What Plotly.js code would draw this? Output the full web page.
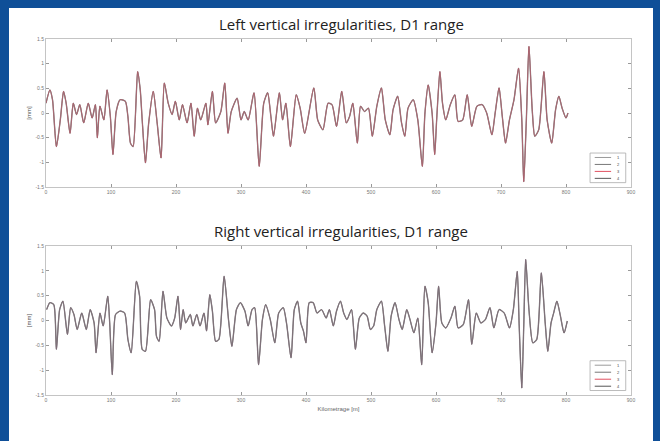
<!DOCTYPE html>
<html><head><meta charset="utf-8">
<script src="https://cdn.plot.ly/plotly-3.0.1.min.js"></script>
<style>
html,body{margin:0;padding:0;background:#0f4f98;width:660px;height:441px;overflow:hidden;}
#chart{position:absolute;left:9px;top:8px;width:644px;height:433px;background:#fff;}
</style></head><body><div id="chart"></div>
<script>
// ---- data ----
const leftDist = [0,6,10,16,22,27,31,37,42,47,52,58,65,71,76,79,83,89,94,99,103,108,114,122,126,130,134,141,145,148,153,158,165,171,177,182,188,194,199,205,210,217,223,228,233,238,246,249,256,261,269,275,280,285,294,300,305,311,320,328,335,341,346,350,359,364,369,376,385,391,398,412,418,426,434,440,447,455,462,467,472,479,484,490,496,502,509,516,522,529,534,541,547,552,557,565,572,579,583,588,594,598,601,606,610,615,622,629,634,641,648,655,663,671,678,686,691,697,702,707,713,720,727,732,735,739,743,748,752,758,766,771,778,784,789,794,800,803];
const leftVals = [0.2,0.47,0.27,-0.68,-0.14,0.44,0.2,-0.41,0.2,-0.03,0.17,-0.2,0.2,-0.1,0.17,-0.5,0.14,-0.14,0.47,-0.07,-0.84,0.03,0.27,0.24,-0.07,-0.61,-0.68,0.84,0.47,-0.14,-1.01,-0.2,0.44,-0.2,-0.91,0.61,0.2,-0.03,0.24,-0.14,0.17,-0.2,0.2,-0.47,0.1,-0.14,0.2,-0.24,0.44,-0.2,0.03,0.61,-0.41,0.03,0.3,-0.14,0.03,-0.14,0.41,-1.08,0.2,0.41,-0.07,-0.47,0.41,-0.14,0.2,-0.68,0.37,0.1,-0.41,0.51,-0.14,-0.34,0.2,0.17,-0.27,0.44,-0.2,-0.07,0.2,-0.61,0.14,0.03,0.1,-0.47,0.14,0.51,-0.14,-0.44,0.07,0.34,-0.2,-0.47,0.1,0.27,-0.14,-1.08,0,0.57,0,-0.84,-0.14,0.84,0.2,-0.14,0.17,0.37,-0.17,-0.14,0.37,-0.27,0.14,0.17,0,-0.44,0,0.51,-0.07,-0.61,-0.14,0.27,0.91,-0.14,-1.39,-0.14,1.35,0.07,-0.47,-0.34,0.84,-0.14,-0.61,0.07,0.34,0.1,-0.1,0];
const rightDist = [1,6,12,16,21,26,33,38,43,48,55,62,68,74,77,83,88,95,98,102,107,114,121,126,131,139,144,148,153,161,167,170,174,180,186,193,198,203,207,211,215,222,226,232,237,243,247,252,256,261,266,274,281,286,293,299,306,311,317,321,327,333,338,345,352,358,365,370,377,382,387,392,396,400,405,411,417,424,431,436,442,447,453,458,463,470,476,482,488,494,499,504,509,516,521,526,531,537,543,548,555,560,566,572,578,583,588,594,600,604,609,615,623,629,634,642,650,655,662,669,676,683,689,697,705,713,719,725,728,732,735,738,743,749,755,762,768,772,777,781,786,791,797,802];
const rightVals = [0.22,0.36,0.32,-0.58,0.22,0.39,-0.28,0.26,0.12,-0.18,0.15,-0.18,0.22,-0.05,-0.65,0.15,-0.11,0.49,-0.05,-1.09,0.12,0.19,0.15,-0.38,-0.65,0.79,0.49,-0.58,-0.62,0.42,0.22,-0.32,-0.42,0.59,0.05,-0.11,0.05,0.49,-0.18,0.22,-0.05,0.12,-0.11,0.12,-0.11,0.15,-0.21,0.52,0.19,-0.42,-0.38,0.89,-0.01,-0.52,0.22,0.36,0.19,-0.11,0.22,0.26,-0.89,0.02,0.32,0.02,-0.45,0.15,0.26,-0.05,-0.75,0.22,0.39,-0.05,-0.21,-0.45,0.36,0.36,0.15,0.22,0.05,0.22,-0.11,0.19,0.39,0.15,0.02,0.22,-0.58,0.05,0.15,0.09,-0.18,-0.11,0.22,0.39,-0.11,-0.62,0.09,0.36,0.02,-0.18,0.22,0.02,-0.25,0.05,-0.89,0.69,0.36,-0.65,-0.05,0.69,-0.05,-0.15,0.05,0.29,-0.15,-0.08,0.42,-0.48,0.15,-0.05,0.02,0.26,-0.15,0.22,0.15,-0.15,0.22,0.99,-0.11,-1.36,-0.11,1.23,0.22,-0.45,-0.38,0.96,-0.05,-0.62,-0.05,0.15,0.39,0.12,-0.25,-0.01];
const seriesNames = ['1','2','3','4'];
const xTicks = [0,100,200,300,400,500,600,700,800,900];
const yTicks = [-1.5,-1,-0.5,0,0.5,1,1.5];
const yTickLabels = ['-1.5','-1','-0.5','0','0.5','1','1.5'];
const panelTitles = ['Left vertical irregularities, D1 range','Right vertical irregularities, D1 range'];
const xTitle = 'Kilometrage [m]';
const yTitle = '[mm]';

// ---- styling ----
const topStyles = [
  {color:'#8c8c8c', width:1.4, opacity:1},
  {color:'#777777', width:0.9, opacity:0.8},
  {color:'#e25a6e', width:1.0, opacity:0.5},
  {color:'#8a4a58', width:0.7, opacity:0.2}
];
const botStyles = [
  {color:'#8c8c8c', width:1.4, opacity:1},
  {color:'#6a6a6a', width:0.9, opacity:0.85},
  {color:'#c27aa8', width:1.0, opacity:0.25},
  {color:'#555555', width:0.7, opacity:0.25}
];
const legendColors = ['#9a9a9a','#777777','#e05060','#555555'];

const panels = [
  {x:leftDist, y:leftVals, xa:'x', ya:'y', styles:topStyles},
  {x:rightDist, y:rightVals, xa:'x2', ya:'y2', styles:botStyles}
];
const traces = [];
panels.forEach(p => {
  seriesNames.forEach((n,i) => {
    traces.push({type:'scatter', mode:'lines', name:n, x:p.x, y:p.y, xaxis:p.xa, yaxis:p.ya,
      line:{color:p.styles[i].color, width:p.styles[i].width, shape:'spline', smoothing:0.6},
      opacity:p.styles[i].opacity, showlegend:false, hoverinfo:'skip'});
  });
});

const tickFont = {family:'Liberation Sans, Arial, sans-serif', size:5, color:'#777'};
function xax(anchor, withTitle){
  const a = {anchor:anchor, range:[0,900], tickvals:xTicks, ticktext:xTicks.map(String),
    ticks:'inside', ticklen:3, tickcolor:'#999', showline:true, linecolor:'#c4c4c4', linewidth:1,
    mirror:'ticks', showgrid:false, zeroline:false, tickfont:tickFont, automargin:false};
  if (withTitle) a.title = {text:xTitle, font:{family:'Liberation Sans, Arial, sans-serif', size:6, color:'#666'}, standoff:4};
  return a;
}
function yax(anchor, domain){
  return {anchor:anchor, domain:domain, range:[-1.5,1.5], tickvals:yTicks, ticktext:yTickLabels,
    ticks:'inside', ticklen:3, tickcolor:'#999', showline:true, linecolor:'#c4c4c4', linewidth:1,
    mirror:'ticks', showgrid:false, zeroline:false, tickfont:tickFont, automargin:false,
    title:{text:yTitle, font:{family:'Liberation Sans, Arial, sans-serif', size:6, color:'#555'}, standoff:3}};
}

// legend boxes (drawn as shapes / annotations in axis-domain coordinates)
const shapes = [], annotations = [];
[['x domain','y domain'],['x2 domain','y2 domain']].forEach(([xr,yr]) => {
  shapes.push({type:'rect', xref:xr, yref:yr, x0:0.93, x1:0.991, y0:0.03, y1:0.23,
    line:{color:'#aaa', width:0.8}, fillcolor:'#fff', layer:'above'});
  seriesNames.forEach((n,i) => {
    const yy = 0.2 - i*0.047;
    shapes.push({type:'line', xref:xr, yref:yr, x0:0.938, x1:0.966, y0:yy, y1:yy,
      line:{color:legendColors[i], width:1}, layer:'above'});
    annotations.push({xref:xr, yref:yr, x:0.978, y:yy, text:n, showarrow:false,
      font:{family:'Liberation Sans, Arial, sans-serif', size:4, color:'#444'}, xanchor:'center', yanchor:'middle'});
  });
});
annotations.push({xref:'paper', yref:'paper', x:0.505, y:1.043, text:panelTitles[0], showarrow:false,
  font:{family:'Open Sans, sans-serif', size:15, color:'#222'}, xanchor:'center', yanchor:'middle'});
annotations.push({xref:'paper', yref:'paper', x:0.505, y:0.462, text:panelTitles[1], showarrow:false,
  font:{family:'Open Sans, sans-serif', size:15, color:'#222'}, xanchor:'center', yanchor:'middle'});

const layout = {
  width:644, height:433, margin:{l:37, r:22, t:31, b:46},
  paper_bgcolor:'#fff', plot_bgcolor:'#fff', showlegend:false,
  xaxis:xax('y', false), yaxis:yax('x',[0.584,1]),
  xaxis2:xax('y2', true), yaxis2:yax('x2',[0,0.4185]),
  shapes:shapes, annotations:annotations
};
Plotly.newPlot('chart', traces, layout, {staticPlot:true, displayModeBar:false});
</script></body></html>
